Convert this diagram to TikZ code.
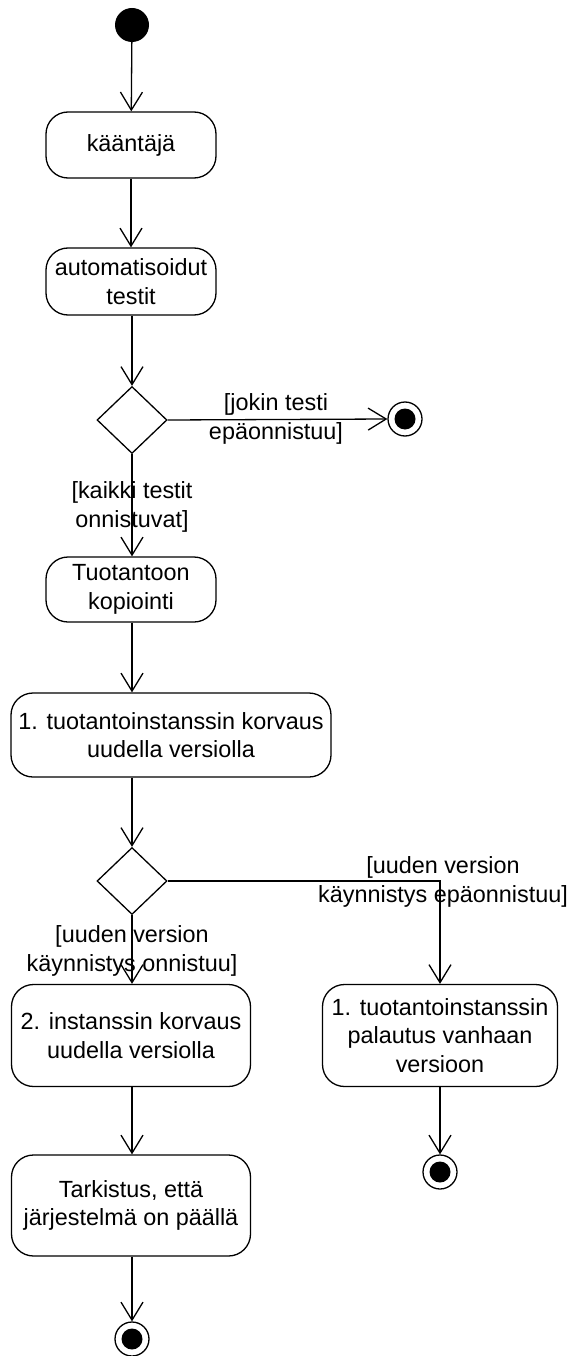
\documentclass[tikz,border=0pt]{standalone}
\usepackage{fontspec}
\setmainfont{Liberation Sans}
\usetikzlibrary{arrows.meta,shapes.geometric}
\tikzset{
  act/.style={draw, rounded corners=22pt, align=center, inner sep=2pt, line width=1.3pt},
  dec/.style={draw, diamond, minimum width=70pt, minimum height=67pt, inner sep=0pt, line width=1.3pt},
  startnode/.style={circle, fill=black, minimum size=34pt, inner sep=0pt},
  endnode/.style={circle, draw, line width=1.3pt, minimum size=34pt, inner sep=0pt,
     path picture={\fill[black] (path picture bounding box.center) circle (10.5pt);}},
  flow/.style={line width=1.3pt, -{Straight Barb[length=18pt,width=22pt,line width=1.3pt]}},
  guard/.style={align=center, inner sep=0pt}
}
\begin{document}
\begin{tikzpicture}[x=1pt,y=-1pt, font=\fontsize{23.4}{28.5}\selectfont]
\useasboundingbox[fill=white] (0,0) rectangle (572,1356);
\node[startnode] (s) at (132,25) {};
\node[act, minimum width=170pt, minimum height=66pt] (k) at (131,145) {kääntäjä};
\node[act, minimum width=170pt, minimum height=67pt] (a) at (131,281.5) {automatisoidut\\testit};
\node[dec] (d1) at (132,420) {};
\node[endnode] (f1) at (405,419) {};
\node[act, minimum width=170pt, minimum height=65pt] (t) at (131,589.5) {Tuotantoon\\kopiointi};
\node[act, minimum width=320pt, minimum height=84pt] (r1) at (171,735) {1. tuotantoinstanssin korvaus\\uudella versiolla};
\node[dec] (d2) at (132,881) {};
\node[act, minimum width=239pt, minimum height=102pt] (r2) at (131,1035.5) {2. instanssin korvaus\\uudella versiolla};
\node[act, minimum width=235pt, minimum height=102pt] (rb) at (440,1035.5) {1. tuotantoinstanssin\\palautus vanhaan\\versioon};
\node[act, minimum width=239pt, minimum height=101pt] (c) at (131,1205.5) {Tarkistus, että\\järjestelmä on päällä};
\node[endnode] (f2) at (440,1172) {};
\node[endnode] (f3) at (132,1339) {};

\draw[flow] (s) -- (k);
\draw[flow] (k) -- (a);
\draw[flow] (a.south -| d1.north) -- (d1.north);
\draw[flow] (d1.east) -- (f1.west);
\draw[flow] (d1.south) -- (d1.south |- t.north);
\draw[flow] (t.south -| d1.south) -- (d1.south |- r1.north);
\draw[flow] (d1.south |- r1.south) -- (d2.north);
\draw[flow] (d2.east) -| (rb.north);
\draw[flow] (d2.south) -- (d2.south |- r2.north);
\draw[flow] (r2.south -| d2.south) -- (d2.south |- c.north);
\draw[flow] (c.south -| f3.north) -- (f3.north);
\draw[flow] (rb.south -| f2.north) -- (f2.north);

\node[guard] (g1) at (276,419) {[jokin testi\\epäonnistuu]};
\node[guard] (g2) at (132,507) {[kaikki testit\\onnistuvat]};
\node[guard] (g3) at (443,882) {[uuden version\\käynnistys epäonnistuu]};
\node[guard] (g4) at (132,951) {[uuden version\\käynnistys onnistuu]};
\end{tikzpicture}
\end{document}
